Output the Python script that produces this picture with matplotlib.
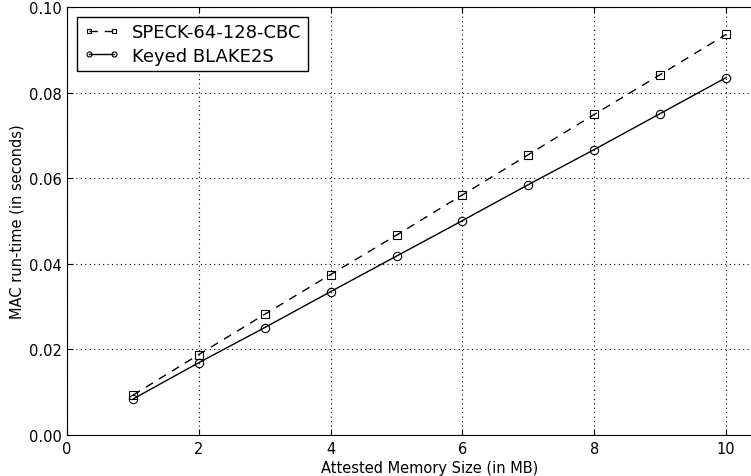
import matplotlib
matplotlib.use("Agg")
import matplotlib.pyplot as plt

# data
mem_mb = [1, 2, 3, 4, 5, 6, 7, 8, 9, 10]
speck = [0.0093, 0.0188, 0.0282, 0.0375, 0.0467, 0.0561, 0.0655, 0.0749, 0.0842, 0.0936]
blake = [0.0084, 0.0169, 0.0251, 0.0335, 0.0418, 0.0501, 0.0585, 0.0667, 0.0751, 0.0835]

fig = plt.figure(figsize=(7.51, 4.77), dpi=100)
# axes run past the right edge, like the cropped original
ax = fig.add_axes([67 / 751, 41 / 477, 725 / 751, 428 / 477])

ax.plot(mem_mb, speck, 'k--', marker='s', mfc='none', mec='k', ms=6, mew=0.8,
        lw=1, dashes=(6, 5), label='SPECK-64-128-CBC')
ax.plot(mem_mb, blake, 'k-', marker='o', mfc='none', mec='k', ms=6, mew=0.8,
        lw=1, label='Keyed BLAKE2S')

ax.set_xlim(0, 11)
ax.set_ylim(0, 0.10)
ax.set_xticks([0, 2, 4, 6, 8, 10])
ax.set_yticks([0.0, 0.02, 0.04, 0.06, 0.08, 0.10])
ax.set_yticklabels(['0.00', '0.02', '0.04', '0.06', '0.08', '0.10'])
ax.tick_params(direction='in', labelsize=10.5, length=4, top=True, right=True, pad=4)
ax.grid(True, color='k', linestyle=(0, (1, 3)), linewidth=0.8)

ax.set_xlabel('Attested Memory Size (in MB)', fontsize=10.5, labelpad=3)
ax.set_ylabel('MAC run-time (in seconds)', fontsize=10.5, labelpad=3)

leg = ax.legend(loc='upper left', numpoints=2, fontsize=13, fancybox=False,
                framealpha=1, edgecolor='k', handlelength=2.0, handletextpad=0.7,
                markerscale=0.6, borderaxespad=0.55, borderpad=0.35,
                labelspacing=0.3)
leg.get_frame().set_linewidth(1)

fig.savefig('out.png', dpi=100)
